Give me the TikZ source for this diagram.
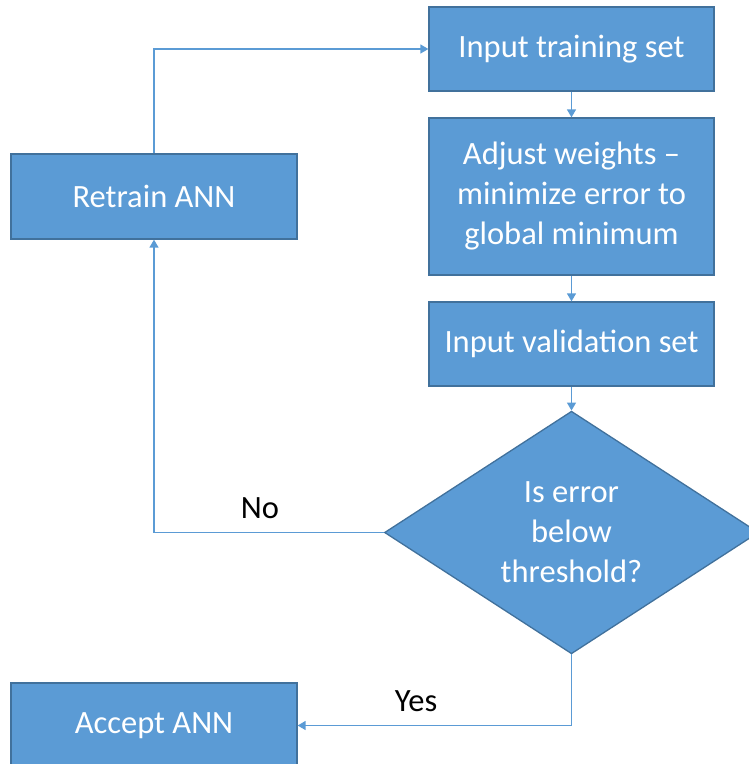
\documentclass[tikz,border=0pt]{standalone}
\usepackage{fontspec}
\setmainfont{Carlito}
\usetikzlibrary{shapes.geometric,arrows.meta}
\definecolor{boxfill}{HTML}{5B9BD5}
\definecolor{boxline}{HTML}{41719C}
\begin{document}
\begin{tikzpicture}[x=1pt,y=-1pt,
  box/.style={draw=boxline,fill=boxfill,line width=1.3pt,text=white,minimum width=285pt,inner sep=0pt,align=center,font=\fontsize{32.5}{40}\selectfont},
  conn/.style={draw=boxfill,line width=1.5pt,-{Triangle[width=9pt,length=8pt]}},
  lab/.style={font=\fontsize{32.5}{40}\selectfont,text=black,inner sep=0pt}]
\useasboundingbox (0,0) rectangle (749,764);
\node[box,minimum height=84pt] (train) at (571.5,49) {Input training set};
\node[box,minimum height=157pt] (adjust) at (571.5,196.5) {Adjust weights --\\minimize error to\\global minimum};
\node[box,minimum height=84pt] (valid) at (571.5,344) {Input validation set};
\node[box,shape=diamond,minimum width=374pt,minimum height=239pt] (dec) at (571.5,532.5) {Is error\\below\\threshold?};
\node[box,minimum height=85pt,minimum width=286pt] (retrain) at (154,196.5) {Retrain ANN};
\node[box,minimum height=85pt,minimum width=286pt] (accept) at (154,725.5) {Accept ANN};
\draw[conn] (train) -- (adjust);
\draw[conn] (adjust) -- (valid);
\draw[conn] (valid) -- (dec);
\draw[conn] (dec.west) -| (retrain.south);
\draw[conn] (retrain.north) |- (train.west);
\draw[conn] (dec.south) |- (accept.east);
\node[lab] (no) at (260,508) {No};
\node[lab] (yes) at (416,701) {Yes};
\end{tikzpicture}
\end{document}
